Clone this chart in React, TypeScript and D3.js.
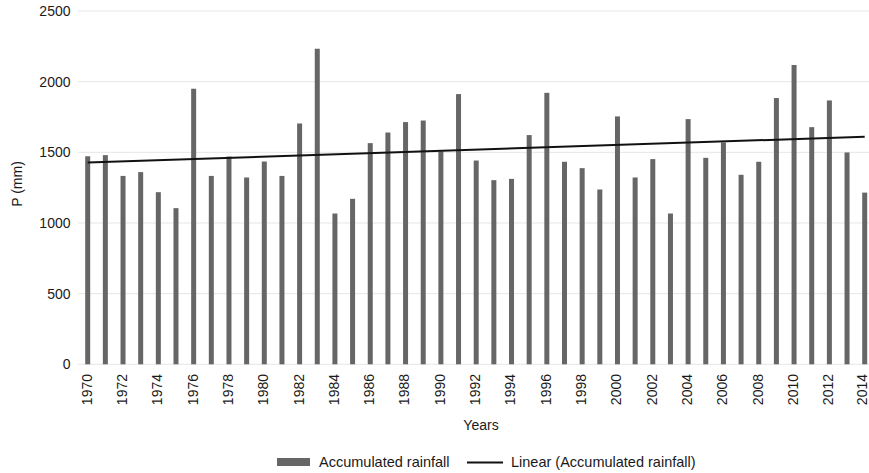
import React from "react";
import * as d3 from "d3";

const years: number[] = [
  1970, 1971, 1972, 1973, 1974, 1975, 1976, 1977, 1978, 1979,
  1980, 1981, 1982, 1983, 1984, 1985, 1986, 1987, 1988, 1989,
  1990, 1991, 1992, 1993, 1994, 1995, 1996, 1997, 1998, 1999,
  2000, 2001, 2002, 2003, 2004, 2005, 2006, 2007, 2008, 2009,
  2010, 2011, 2012, 2013, 2014,
];

const rainfall: number[] = [
  1472, 1480, 1333, 1360, 1218, 1105, 1950, 1333, 1470, 1322,
  1435, 1333, 1704, 2233, 1067, 1171, 1565, 1640, 1714, 1725,
  1506, 1912, 1442, 1303, 1312, 1622, 1921, 1433, 1388, 1237,
  1754, 1322, 1452, 1067, 1735, 1461, 1570, 1341, 1433, 1884,
  2118, 1678, 1867, 1499, 1215,
];

// Linear trend end values (1970, 2014)
const trendYears: number[] = [1970, 2014];
const trendValues: number[] = [1428, 1610];

const yTicks: number[] = [0, 500, 1000, 1500, 2000, 2500];
const xTickYears: number[] = years.filter((y) => y % 2 === 0);

const W = 869;
const H = 473;
const FONT = "'Liberation Sans', Arial, Helvetica, sans-serif";
const BAR = "#666666";
const TXT = "#1a1a1a";

export default function App() {
  const x = d3.scalePoint<number>().domain(years).range([87.7, 864.7]);
  const y = d3.scaleLinear().domain([0, 2500]).range([364.3, 11]);
  const barW = 5;
  const gridL = 78;
  const gridR = 869;

  const line = d3
    .line<number>()
    .x((_, i) => x(trendYears[i]) as number)
    .y((d) => y(d));

  return (
    <div style={{ position: "absolute", left: 0, top: 0 }}>
      <svg width={W} height={H} style={{ display: "block", background: "#fff" }}>
        {yTicks.map((t) => (
          <g key={t}>
            <line x1={gridL} x2={gridR} y1={y(t)} y2={y(t)} stroke="#e6e6e6" strokeWidth={1} />
            <text
              x={70.5}
              y={y(t)}
              dy="0.35em"
              textAnchor="end"
              fontFamily={FONT}
              fontSize={14}
              fill={TXT}
            >
              {t}
            </text>
          </g>
        ))}
        {years.map((yr, i) => (
          <rect
            key={yr}
            x={(x(yr) as number) - barW / 2}
            y={y(rainfall[i])}
            width={barW}
            height={y(0) - y(rainfall[i])}
            fill={BAR}
          />
        ))}
        <path d={line(trendValues) || ""} fill="none" stroke="#111" strokeWidth={2} />
        {xTickYears.map((yr) => (
          <text
            key={yr}
            transform={`translate(${Math.min((x(yr) as number) - 1, W - 7)},374) rotate(-90)`}
            dy="0.35em"
            textAnchor="end"
            fontFamily={FONT}
            fontSize={14}
            fill={TXT}
          >
            {yr}
          </text>
        ))}
        <text
          transform={`translate(17,184) rotate(-90)`}
          textAnchor="middle"
          dy="0.35em"
          fontFamily={FONT}
          fontSize={14}
          fill={TXT}
        >
          P (mm)
        </text>
        <text x={481} y={425} dy="0.35em" textAnchor="middle" fontFamily={FONT} fontSize={14} fill={TXT}>
          Years
        </text>
        <rect x={277} y={458} width={33} height={8} fill={BAR} />
        <text x={319} y={462} dy="0.35em" fontFamily={FONT} fontSize={14.5} fill={TXT}>
          Accumulated rainfall
        </text>
        <line x1={467} x2={503} y1={462.5} y2={462.5} stroke="#111" strokeWidth={2} />
        <text x={511} y={462} dy="0.35em" fontFamily={FONT} fontSize={14.5} fill={TXT}>
          Linear (Accumulated rainfall)
        </text>
      </svg>
    </div>
  );
}
